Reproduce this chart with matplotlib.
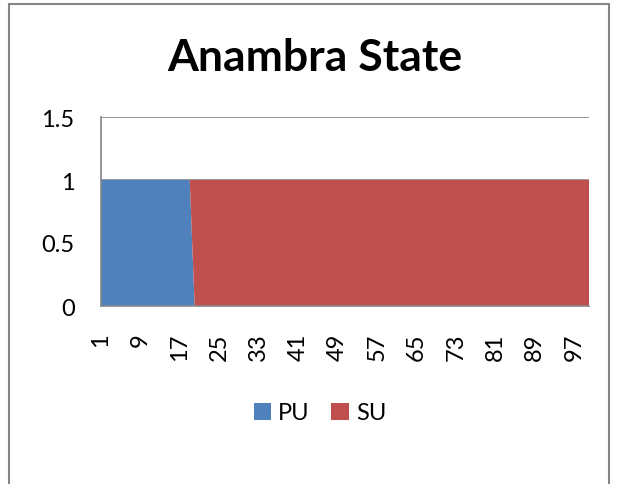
import matplotlib
matplotlib.use("Agg")
import matplotlib.pyplot as plt
from matplotlib.patches import Rectangle, Patch
import numpy as np

# data: categories 1..100, PU share then SU share
categories = list(range(1, 101))
pu_values = [1] * 19 + [0] * 81
su_values = [0] * 19 + [1] * 81
x_ticks = list(range(1, 98, 8))
y_ticks = [0, 0.5, 1, 1.5]
y_labels = ["0", "0.5", "1", "1.5"]

BLUE = "#4F81BD"
RED = "#C0504D"
GRAY = "#868686"

W, H = 617, 485
fig = plt.figure(figsize=(W / 100, H / 100), dpi=100)
plt.rcParams["font.family"] = ["Lato", "DejaVu Sans"]

# outer chart frame (bottom edge falls outside the picture)
fig.patches.append(Rectangle((9 / W, -0.05), 600 / W, (H - 5) / H + 0.05,
                             transform=fig.transFigure, fill=False,
                             edgecolor=GRAY, linewidth=1.5))

ax = fig.add_axes([101 / W, (H - 307) / H, 488 / W, (307 - 118) / H])
ax.stackplot(categories, pu_values, su_values, colors=[BLUE, RED],
             labels=["PU", "SU"], zorder=2)

ax.set_xlim(1, 100)
ax.set_ylim(0, 1.5)
ax.set_xticks(x_ticks)
ax.set_xticklabels([str(t) for t in x_ticks], rotation=90, fontsize=17)
ax.set_yticks(y_ticks)
ax.set_yticklabels(y_labels, fontsize=17)
ax.tick_params(axis="both", length=0)
ax.tick_params(axis="x", pad=19)
ax.tick_params(axis="y", pad=19)

ax.yaxis.grid(True, color=GRAY, linewidth=1.2, zorder=0)
ax.set_axisbelow(True)
for side in ["top", "right"]:
    ax.spines[side].set_visible(False)
for side in ["left", "bottom"]:
    ax.spines[side].set_color(GRAY)
    ax.spines[side].set_linewidth(1.2)
    ax.spines[side].set_zorder(3)

fig.text(315 / W, 1 - 58 / H, "Anambra State", ha="center", va="center",
         fontsize=32, fontweight="bold")

handles = [Patch(facecolor=BLUE, label="PU"), Patch(facecolor=RED, label="SU")]
fig.legend(handles=handles, loc="center", bbox_to_anchor=(320 / W, 1 - 414 / H),
           ncol=2, frameon=False, fontsize=17, handlelength=0.75,
           handleheight=0.75, handletextpad=0.3, columnspacing=0.9)

fig.savefig("out.png", dpi=100)
